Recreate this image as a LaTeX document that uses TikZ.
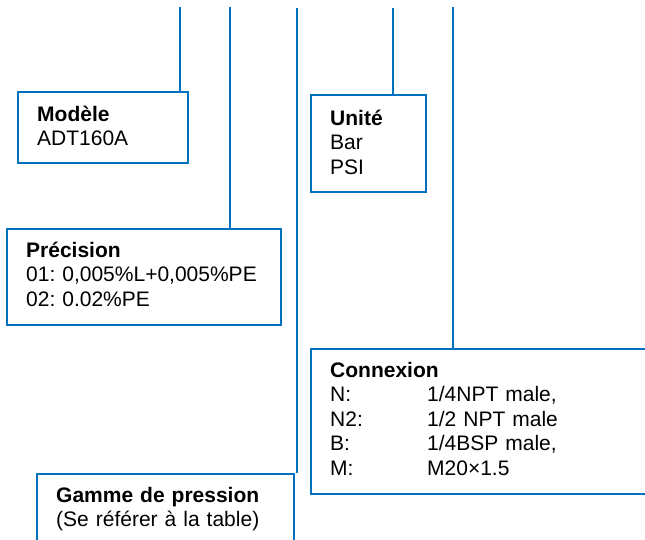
\documentclass[tikz,border=0pt]{standalone}
\usepackage{fontspec}
\setmainfont{Liberation Sans}
\frenchspacing
\definecolor{lineblue}{RGB}{0,112,192}
\tikzset{
  conn/.style={draw=lineblue, line width=2pt},
  box/.style={draw=lineblue, line width=2pt, rectangle, inner sep=0pt, anchor=north west, fill=white},
  txt/.style={inner sep=0pt, anchor=base west, align=left, font=\fontsize{21}{24.5}\selectfont}
}
\begin{document}
\begin{tikzpicture}[x=1pt, y=-1pt]
\clip (0,0) rectangle (645,539);
\fill[white] (0,0) rectangle (645,539);
% boxes
\node[box, minimum width=170pt, minimum height=71pt] (modele) at (17,91) {};
\node[box, minimum width=274pt, minimum height=96pt] (precision) at (6,228) {};
\node[box, minimum width=115pt, minimum height=97pt] (unite) at (310,94) {};
\node[box, minimum width=350pt, minimum height=145pt] (connexion) at (310,348) {};
\node[box, minimum width=257pt, minimum height=100pt] (gamme) at (36,473) {};
% texts
\node[txt, text width=140pt] (modeleT) at (37,121) {\frenchspacing\textbf{Modèle}\\ADT160A};
\node[txt, text width=250pt] (precisionT) at (26,257) {\frenchspacing\textbf{Précision}\\01: 0,005\%L+0,005\%PE\\02: 0.02\%PE};
\node[txt, text width=90pt] (uniteT) at (330,125) {\frenchspacing\textbf{Unité}\\Bar\\PSI};
\node[txt, text width=300pt] (connexionT) at (330,377) {\frenchspacing\textbf{Connexion}\\
\makebox[97pt][l]{N:}1/4NPT male,\\
\makebox[97pt][l]{N2:}1/2 NPT male\\
\makebox[97pt][l]{B:}1/4BSP male,\\
\makebox[97pt][l]{M:}M20×1.5};
\node[txt, text width=240pt] (gammeT) at (56,502) {\frenchspacing\textbf{Gamme de pression}\\(Se référer à la table)};
% connector tops
\coordinate (t1) at (180,7);
\coordinate (t2) at (230,7);
\coordinate (t3) at (297,8);
\coordinate (t4) at (393,8);
\coordinate (t5) at (453,7);
\draw[conn] (t1) -- (t1 |- modele.north);
\draw[conn] (t2) -- (t2 |- precision.north);
\draw[conn] (t3) -- (t3 |- gamme.north);
\draw[conn] (t4) -- (t4 |- unite.north);
\draw[conn] (t5) -- (t5 |- connexion.north);
\end{tikzpicture}
\end{document}
